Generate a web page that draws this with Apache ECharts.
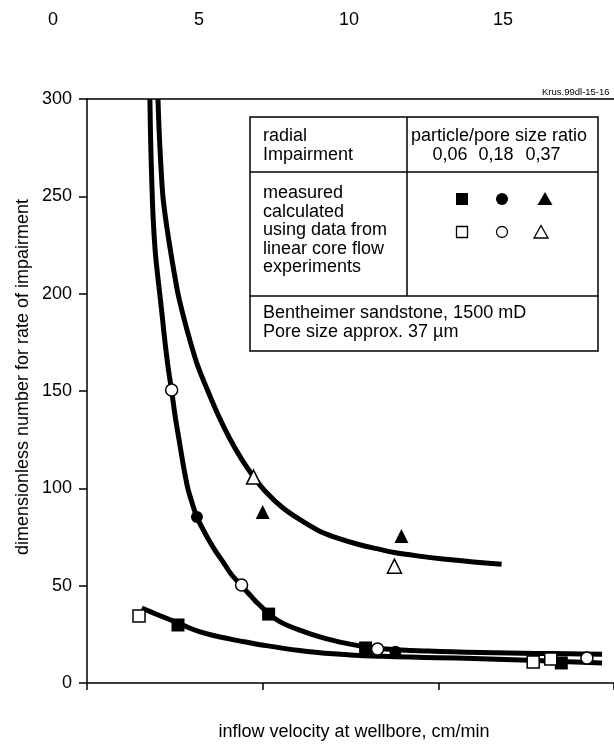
<!DOCTYPE html>
<html>
<head>
<meta charset="utf-8">
<script src="https://cdn.jsdelivr.net/npm/echarts@6/dist/echarts.min.js"></script>
<style>
  html, body { margin: 0; padding: 0; background: #fff; }
  #chart { width: 614px; height: 744px; }
</style>
</head>
<body>
<div id="chart"></div>
<script>
// curves: [inflow velocity, dimensionless number]
const curve006_018 = [[1.79, 300], [1.81, 280], [1.84, 260], [1.88, 240], [1.95, 220], [2.07, 200], [2.15, 187], [2.22, 175], [2.31, 162], [2.41, 150], [2.51, 137], [2.62, 125], [2.74, 112], [2.87, 100], [3.0, 92], [3.13, 85], [3.3, 79], [3.45, 74], [3.65, 68], [3.86, 62.5], [4.1, 56], [4.4, 50], [4.6, 46], [4.8, 42], [5.0, 38.5], [5.17, 35.5], [5.4, 32.5], [5.6, 30.5], [5.8, 28.9], [6.05, 27.2], [6.4, 25], [6.8, 22.8], [7.2, 21], [7.6, 19.6], [8.0, 18.5], [8.5, 17.5], [9.1, 16.8], [9.7, 16.4], [10.4, 16], [11.2, 15.7], [12, 15.4], [12.8, 15.2], [13.7, 15], [14.66, 14.8]];
const curve037 = [[2.02, 300], [2.05, 285], [2.09, 270], [2.16, 250], [2.25, 237], [2.35, 225], [2.47, 212], [2.59, 200], [2.75, 188], [2.93, 176], [3.15, 163], [3.44, 150], [3.75, 137], [4.05, 126], [4.4, 115], [4.74, 106], [5.1, 98], [5.57, 90], [6.05, 84], [6.62, 78], [7.2, 74], [7.76, 71], [8.25, 69], [8.75, 67], [9.4, 65.3], [10.2, 63.6], [11, 62.2], [11.8, 61]];
const curveLow = [[1.56, 38.5], [1.85, 36.3], [2.1, 34.4], [2.35, 32.6], [2.59, 30.8], [2.9, 28.4], [3.2, 26.4], [3.6, 24.4], [4.15, 22.3], [4.6, 20.8], [5.1, 19.2], [5.6, 17.8], [6.05, 16.7], [6.5, 15.8], [7.0, 15], [7.76, 14.1], [8.4, 13.7], [9.2, 13.3], [10, 13], [11, 12.6], [11.9, 12.1], [12.8, 11.5], [13.7, 10.9], [14.66, 10.3]];

// measured points (filled symbols)
const measured006 = [[2.59, 29.8], [5.17, 35.4], [7.93, 18], [13.5, 10.3]];
const measured018 = [[3.13, 85.3], [8.78, 16]];
const measured037 = [[5.0, 87.8], [8.95, 75.5]];
// calculated points (open symbols)
const calc006 = [[1.48, 34.4], [12.7, 10.8], [13.2, 12.3]];
const calc018 = [[2.41, 150.5], [4.4, 50.3], [8.27, 17.5], [14.23, 12.8]];
const calc037 = [[4.74, 105.8], [8.75, 60]];

const topLabels = ['0', '5', '10', '15'];
const ratioLabels = ['0,06', '0,18', '0,37'];

const FONT = '"Liberation Sans", Arial, Helvetica, sans-serif';
const myChart = echarts.init(document.getElementById('chart'), null, { renderer: 'canvas' });

const lineSeries = (data) => ({
  type: 'line',
  data,
  smooth: 0.3,
  showSymbol: false,
  symbol: 'none',
  silent: true,
  z: 2,
  lineStyle: { color: '#000', width: 5, join: 'round', cap: 'butt' }
});

const pointSeries = (data, symbol, size, filled) => ({
  type: 'scatter',
  data,
  symbol,
  symbolSize: size,
  z: filled ? 4 : 5,
  itemStyle: filled
    ? { color: '#000', borderWidth: 0, opacity: 1 }
    : { color: '#fff', borderColor: '#000', borderWidth: 1.5, opacity: 1 }
});

// legend table graphics
const tx = (text, x, y, opts) => ({
  type: 'text',
  z: 100,
  style: Object.assign({
    text, x, y,
    fontSize: 18,
    fontFamily: FONT,
    fill: '#000',
    textVerticalAlign: 'top',
    lineHeight: 18.5
  }, opts || {})
});
const ln = (x1, y1, x2, y2) => ({
  type: 'line', z: 100,
  shape: { x1, y1, x2, y2 },
  style: { stroke: '#000', lineWidth: 1.5 }
});

const graphics = [
  { type: 'rect', z: 99, shape: { x: 250, y: 117, width: 348, height: 234 }, style: { fill: '#fff', stroke: '#000', lineWidth: 1.5 } },
  ln(407, 117, 407, 296),
  ln(250, 172, 598, 172),
  ln(250, 296, 598, 296),
  tx('radial\nImpairment', 263, 127),
  tx('particle/pore size ratio', 411, 127),
  tx('measured\ncalculated\nusing data from\nlinear core flow\nexperiments', 263, 184),
  tx('Bentheimer sandstone, 1500 mD\nPore size approx. 37 \u00b5m', 263, 303.5, { lineHeight: 19 }),
  // legend symbols
  { type: 'rect', z: 101, shape: { x: 456, y: 193, width: 12, height: 12 }, style: { fill: '#000' } },
  { type: 'circle', z: 101, shape: { cx: 502, cy: 199, r: 6 }, style: { fill: '#000' } },
  { type: 'polygon', z: 101, shape: { points: [[545, 192], [552.5, 205], [537.5, 205]] }, style: { fill: '#000' } },
  { type: 'rect', z: 101, shape: { x: 456.5, y: 226.5, width: 11, height: 11 }, style: { fill: '#fff', stroke: '#000', lineWidth: 1.3 } },
  { type: 'circle', z: 101, shape: { cx: 502, cy: 232, r: 5.5 }, style: { fill: '#fff', stroke: '#000', lineWidth: 1.3 } },
  { type: 'polygon', z: 101, shape: { points: [[541, 225.5], [548, 238], [534, 238]] }, style: { fill: '#fff', stroke: '#000', lineWidth: 1.3 } },
  tx('Krus.99dl-15-16', 542, 87, { fontSize: 9.5, lineHeight: 11 }),
  {
    type: 'text', z: 100, x: 23, y: 377, rotation: Math.PI / 2,
    style: { text: 'dimensionless number for rate of impairment', x: 0, y: 0, fontSize: 18, fontFamily: FONT, fill: '#000', textAlign: 'center', textVerticalAlign: 'middle' }
  },
  tx('inflow velocity at wellbore, cm/min', 354, 732, { textAlign: 'center', textVerticalAlign: 'middle' })
];
ratioLabels.forEach((t, i) => {
  graphics.push(tx(t, [450, 496, 543][i], 145.5, { textAlign: 'center' }));
});
topLabels.forEach((t, i) => {
  graphics.push(tx(t, [53, 199, 349, 503][i], 20, { textAlign: 'center', textVerticalAlign: 'middle' }));
});

const option = {
  backgroundColor: '#fff',
  animation: false,
  grid: { left: 87, top: 99, width: 528, height: 584, containLabel: false },
  xAxis: [
    {
      type: 'value', min: 0, max: 15, interval: 5,
      axisLine: { show: true, lineStyle: { color: '#000', width: 1.5 } },
      axisTick: { show: true, length: 7, inside: false, lineStyle: { color: '#000', width: 1.5 } },
      axisLabel: { show: false },
      splitLine: { show: false }
    },
    {
      type: 'value', position: 'top', min: 0, max: 15,
      axisLine: { show: true, onZero: false, lineStyle: { color: '#000', width: 1.5 } },
      axisTick: { show: false },
      axisLabel: { show: false },
      splitLine: { show: false }
    }
  ],
  yAxis: {
    type: 'value', min: 0, max: 300, interval: 50,
    axisLine: { show: true, lineStyle: { color: '#000', width: 1.5 } },
    axisTick: { show: true, length: 8, lineStyle: { color: '#000', width: 1.5 } },
    axisLabel: { color: '#000', fontSize: 18, fontFamily: FONT, margin: 15 },
    splitLine: { show: false }
  },
  graphic: graphics,
  series: [
    lineSeries(curve006_018),
    lineSeries(curve037),
    lineSeries(curveLow),
    pointSeries(measured006, 'rect', 13, true),
    pointSeries(measured018, 'circle', 12, true),
    pointSeries(measured037, 'triangle', 14, true),
    pointSeries(calc006, 'rect', 12, false),
    pointSeries(calc018, 'circle', 12, false),
    pointSeries(calc037, 'triangle', 14, false)
  ]
};
myChart.setOption(option);
</script>
</body>
</html>
